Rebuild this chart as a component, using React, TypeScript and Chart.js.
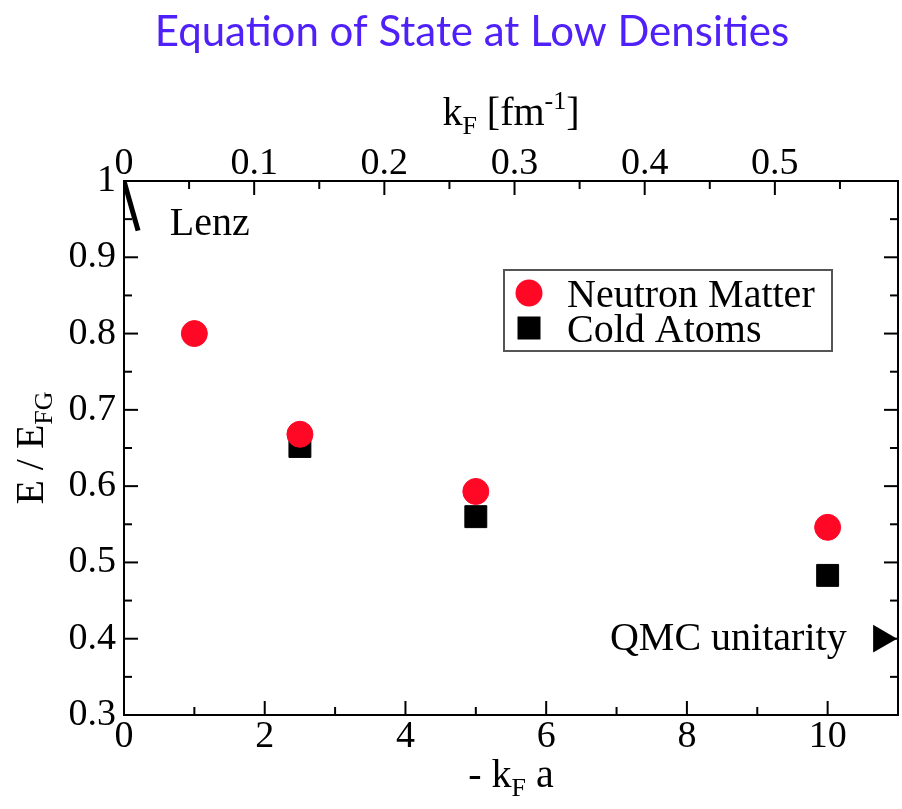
import React, { useEffect, useRef } from 'react';
import { Chart, registerables } from 'chart.js';

Chart.register(...registerables);

// ---- data ----
const chartTitle = 'Equation of State at Low Densities';
const neutronX = [1, 2.5, 5, 10];
const neutronY = [0.8, 0.668, 0.593, 0.546];
const coldX = [2.5, 5, 10];
const coldY = [0.652, 0.56, 0.483];
const lenzX = [0, 0.2];
const lenzY = [1.0, 0.935];
const qmcX = [10.76];
const qmcY = [0.4];
const xTickLabels = ['0', '2', '4', '6', '8', '10'];
const yTickLabels = ['0.3', '0.4', '0.5', '0.6', '0.7', '0.8', '0.9', '1'];
const topTickLabels = ['0', '0.1', '0.2', '0.3', '0.4', '0.5'];
const scatteringLength = -18.5; // fm
const xMin = 0;
const xMax = 11;
const yMin = 0.3;
const yMax = 1.0;
const legendLabels = ['Neutron Matter', 'Cold Atoms'];

const SERIF = "'Liberation Serif', 'Times New Roman', serif";
const RED = '#ff0826';

const near = (labels: string[], v: number) => {
  const hit = labels.find((l) => Math.abs(parseFloat(l) - v) < 1e-6);
  return hit === undefined ? '' : hit;
};

type Seg = { t: string; s: number; dy: number };
function drawRich(ctx: CanvasRenderingContext2D, segs: Seg[], x: number, y: number, align: 'left' | 'center' | 'right') {
  const widths = segs.map((sg) => {
    ctx.font = `${sg.s}px ${SERIF}`;
    return ctx.measureText(sg.t).width;
  });
  const total = widths.reduce((a, b) => a + b, 0);
  let cx = align === 'left' ? x : align === 'center' ? x - total / 2 : x - total;
  ctx.textAlign = 'left';
  ctx.textBaseline = 'alphabetic';
  segs.forEach((sg, i) => {
    ctx.font = `${sg.s}px ${SERIF}`;
    ctx.fillText(sg.t, cx, y + sg.dy);
    cx += widths[i];
  });
}

const decorPlugin = {
  id: 'decor',
  afterDatasetsDraw(chart: any) {
    const { ctx, chartArea: ca, scales } = chart;
    const xs = scales.x;
    const ys = scales.y;
    const x2 = scales.x2;
    ctx.save();
    // inward ticks
    ctx.strokeStyle = '#000';
    ctx.lineWidth = 2;
    const line = (a: number, b: number, c: number, d: number) => {
      ctx.beginPath();
      ctx.moveTo(a, b);
      ctx.lineTo(c, d);
      ctx.stroke();
    };
    xs.ticks.forEach((t: any) => {
      const px = xs.getPixelForValue(t.value);
      const len = near(xTickLabels, t.value) ? 14 : 8;
      line(px, ca.bottom, px, ca.bottom - len);
    });
    x2.ticks.forEach((t: any) => {
      const px = x2.getPixelForValue(t.value);
      const len = near(topTickLabels, t.value) ? 14 : 8;
      line(px, ca.top, px, ca.top + len);
    });
    ys.ticks.forEach((t: any) => {
      const py = ys.getPixelForValue(t.value);
      const len = near(yTickLabels, t.value) ? 14 : 8;
      line(ca.left, py, ca.left + len, py);
      line(ca.right, py, ca.right - len, py);
    });
    ctx.fillStyle = '#000';
    // annotations
    ctx.font = `40px ${SERIF}`;
    ctx.textBaseline = 'alphabetic';
    ctx.textAlign = 'left';
    ctx.fillText('Lenz', xs.getPixelForValue(0.65), ys.getPixelForValue(0.929));
    ctx.textAlign = 'right';
    ctx.fillText('QMC unitarity', xs.getPixelForValue(10.27), ys.getPixelForValue(0.385));

    // axis titles
    const cx = (ca.left + ca.right) / 2;
    drawRich(ctx, [
      { t: 'k', s: 40, dy: 0 },
      { t: 'F', s: 26, dy: 9 },
      { t: ' [fm', s: 40, dy: 0 },
      { t: '-1', s: 26, dy: -16 },
      { t: ']', s: 40, dy: 0 },
    ], cx, 125, 'center');
    drawRich(ctx, [
      { t: '- k', s: 40, dy: 0 },
      { t: 'F', s: 26, dy: 9 },
      { t: ' a', s: 40, dy: 0 },
    ], cx, 787, 'center');
    ctx.save();
    ctx.translate(43, (ca.top + ca.bottom) / 2);
    ctx.rotate(-Math.PI / 2);
    drawRich(ctx, [
      { t: 'E / E', s: 40, dy: 0 },
      { t: 'FG', s: 26, dy: 9 },
    ], 0, 0, 'center');
    ctx.restore();

    // main title
    ctx.fillStyle = '#5020f8';
    ctx.font = `42px Lato, 'Open Sans', sans-serif`;
    ctx.textAlign = 'center';
    ctx.textBaseline = 'alphabetic';
    ctx.fillText(chartTitle, 472, 46);

    // legend
    const lx = 504, ly = 270, lw = 328, lh = 81;
    ctx.strokeStyle = '#555';
    ctx.lineWidth = 2;
    ctx.strokeRect(lx, ly, lw, lh);
    ctx.fillStyle = RED;
    ctx.beginPath();
    ctx.arc(lx + 25, ly + 23, 13.5, 0, Math.PI * 2);
    ctx.fill();
    ctx.fillStyle = '#000';
    ctx.fillRect(lx + 25 - 11.5, ly + 58 - 11.5, 23, 23);
    ctx.font = `40px ${SERIF}`;
    ctx.textAlign = 'left';
    ctx.fillText(legendLabels[0], lx + 63, ly + 37);
    ctx.fillText(legendLabels[1], lx + 63, ly + 72);
    ctx.restore();
  },
};

const zeroPad = (s: any) => {
  s.paddingLeft = 0;
  s.paddingRight = 0;
  s.paddingTop = 0;
  s.paddingBottom = 0;
};

export default function App() {
  const ref = useRef<HTMLCanvasElement>(null);
  useEffect(() => {
    const canvas = ref.current!;
    const tickFont = { family: SERIF, size: 38, lineHeight: 1 };
    const chart = new Chart(canvas, {
      type: 'scatter',
      data: {
        datasets: [
          {
            label: legendLabels[0],
            data: neutronX.map((x, i) => ({ x, y: neutronY[i] })),
            pointStyle: 'circle',
            pointRadius: 13,
            pointBorderWidth: 1,
            backgroundColor: RED,
            borderColor: RED,
          },
          {
            label: legendLabels[1],
            data: coldX.map((x, i) => ({ x, y: coldY[i] })),
            pointStyle: 'rect',
            pointRadius: 15.5,
            pointBorderWidth: 1,
            backgroundColor: '#000',
            borderColor: '#000',
          },
          {
            type: 'line',
            label: 'Lenz',
            data: lenzX.map((x, i) => ({ x, y: lenzY[i] })),
            borderColor: '#000',
            borderWidth: 5,
            pointRadius: 0,
            showLine: true,
            fill: false,
          } as any,
          {
            label: 'QMC unitarity',
            data: qmcX.map((x, i) => ({ x, y: qmcY[i] })),
            pointStyle: 'triangle',
            rotation: 90,
            pointRadius: 16,
            pointBorderWidth: 0,
            backgroundColor: '#000',
            borderColor: '#000',
            clip: false,
          } as any,
        ],
      },
      options: {
        responsive: false,
        animation: false,
        events: [],
        layout: { padding: 0, autoPadding: false },
        plugins: { legend: { display: false }, title: { display: false }, tooltip: { enabled: false } },
        scales: {
          x: {
            type: 'linear',
            position: 'bottom',
            min: xMin,
            max: xMax,
            grid: { display: false, drawTicks: false, tickLength: 0 },
            border: { display: true, color: '#000', width: 2 },
            ticks: {
              stepSize: 1,
              autoSkip: false,
              maxRotation: 0,
              padding: 3,
              color: '#000',
              font: tickFont,
              callback: (v: any) => near(xTickLabels, Number(v)),
            },
            afterFit: (s: any) => { s.height = 94; zeroPad(s); },
          },
          x2: {
            type: 'linear',
            position: 'top',
            min: xMin / -scatteringLength,
            max: xMax / -scatteringLength,
            grid: { display: false, drawTicks: false, tickLength: 0 },
            border: { display: true, color: '#000', width: 2 },
            ticks: {
              stepSize: 0.05,
              includeBounds: false,
              autoSkip: false,
              maxRotation: 0,
              padding: -2,
              color: '#000',
              font: tickFont,
              callback: (v: any) => near(topTickLabels, Number(v)),
            },
            afterFit: (s: any) => { s.height = 181; zeroPad(s); },
          },
          y: {
            type: 'linear',
            position: 'left',
            min: yMin,
            max: yMax,
            grid: { display: false, drawTicks: false, tickLength: 0 },
            border: { display: true, color: '#000', width: 2 },
            ticks: {
              stepSize: 0.05,
              autoSkip: false,
              padding: 8,
              color: '#000',
              font: tickFont,
              callback: (v: any) => near(yTickLabels, Number(v)),
            },
            afterFit: (s: any) => { s.width = 124; zeroPad(s); },
          },
          y2: {
            type: 'linear',
            position: 'right',
            min: yMin,
            max: yMax,
            grid: { display: false, drawTicks: false, tickLength: 0 },
            border: { display: true, color: '#000', width: 2 },
            ticks: { display: false },
            afterFit: (s: any) => { s.width = 4; zeroPad(s); },
          },
        },
      } as any,
      plugins: [decorPlugin],
    });
    return () => chart.destroy();
  }, []);
  return (
    <div style={{ position: 'absolute', left: 0, top: 0, width: 902, height: 809, background: '#fff' }}>
      <canvas ref={ref} width={902} height={809} style={{ display: 'block' }} />
    </div>
  );
}
